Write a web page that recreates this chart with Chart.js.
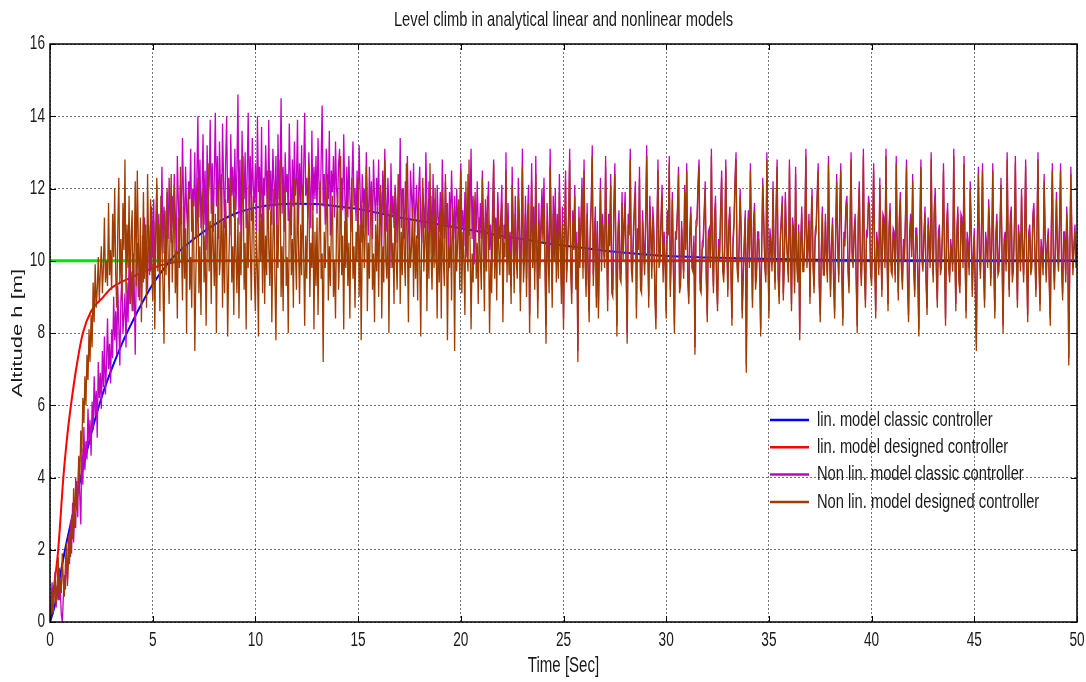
<!DOCTYPE html>
<html>
<head>
<meta charset="utf-8">
<script src="https://cdn.jsdelivr.net/npm/chart.js@4.4.1/dist/chart.umd.min.js"></script>
<style>
  html, body { margin: 0; padding: 0; background: #fff; }
  #wrap { width: 1086px; height: 682px; }
</style>
</head>
<body>
<div id="wrap"><canvas id="chart" width="1086" height="682"></canvas></div>
<script>
// Level climb: altitude response of linear / nonlinear models
const TITLE = 'Level climb in analytical linear and nonlinear models';
const X_LABEL = 'Time [Sec]';
const Y_LABEL = 'Altitude h [m]';

const xTicks = [0, 5, 10, 15, 20, 25, 30, 35, 40, 45, 50];
const yTicks = [0, 2, 4, 6, 8, 10, 12, 14, 16];

const seriesNames = [
  'lin. model classic controller',
  'lin. model designed controller',
  'Non lin. model classic controller',
  'Non lin. model designed controller',
];

// reference altitude (green)
const refTime = [0, 50];
const refAlt = [10, 10];

// linear model, classic controller (blue)
const blueTime = [0, 0.25, 0.5, 0.75, 1, 1.5, 2, 2.5, 3, 3.5, 4, 4.5, 5, 5.5, 6, 7, 8, 9, 10, 11, 12, 13, 14, 15, 16, 17, 18, 19, 20, 21, 22, 23, 24, 25, 26, 27, 28, 29, 30, 32, 34, 36, 38, 40, 45, 50];
const blueAlt = [0, 0.5, 1.3, 2.05, 2.7, 4.0, 5.2, 6.2, 7.0, 7.7, 8.3, 8.85, 9.35, 9.75, 10.1, 10.6, 11.0, 11.3, 11.47, 11.56, 11.58, 11.57, 11.5, 11.43, 11.32, 11.2, 11.1, 11.0, 10.9, 10.8, 10.68, 10.6, 10.5, 10.42, 10.35, 10.28, 10.22, 10.17, 10.13, 10.09, 10.06, 10.04, 10.02, 10.01, 10.0, 10.0];

// linear model, designed controller (red)
const redTime = [0, 0.2, 0.4, 0.65, 0.85, 1.02, 1.3, 1.6, 2, 2.6, 3, 3.5, 4, 5, 6, 7, 50];
const redAlt = [0, 1.0, 2.0, 4.0, 5.2, 6.0, 7.1, 8.0, 8.6, 9.0, 9.25, 9.42, 9.55, 9.8, 9.95, 10.0, 10.0];

// nonlinear models, sampled every 0.05 s (one row = one second)
const SAMPLE_DT = 0.05;

// nonlinear model, classic controller (magenta)
const magentaAlt = [
  0.0, 0.5, 1.1, 0.3, 0.8, 1.4, 0.4, 1.0, 0.6, 1.5, 0.9, 0.2, 0.0, 0.7, 1.3, 0.9, 1.8, 1.2, 2.4, 1.6,
  2.8, 1.9, 3.3, 2.2, 3.0, 2.6, 3.9, 2.9, 4.4, 3.5, 2.7, 4.8, 3.8, 5.4, 4.2, 5.0, 4.5, 5.9, 4.9, 5.6,
  4.6, 6.1, 5.3, 6.8, 5.7, 6.4, 5.1, 7.2, 6.2, 6.9, 5.9, 7.5, 6.5, 7.9, 6.3, 7.1, 8.4, 7.0, 7.7, 6.6,
  8.1, 7.3, 9.0, 7.8, 8.6, 7.4, 9.3, 8.2, 7.1, 8.9, 9.6, 8.0, 8.5, 9.1, 7.6, 9.4, 8.3, 10.0, 8.8, 9.7,
  8.6, 10.2, 9.3, 7.4, 9.8, 10.5, 9.0, 9.6, 10.1, 8.9, 10.7, 9.4, 11.2, 9.9, 10.4, 9.2, 11.0, 10.3, 9.7, 11.5,
  10.1, 11.7, 9.6, 10.9, 12.1, 10.4, 11.3, 9.9, 10.7, 12.6, 10.2, 11.5, 10.8, 9.8, 11.9, 10.6, 12.3, 11.1, 10.5, 11.8,
  10.9, 12.4, 11.3, 10.2, 12.9, 11.6, 10.7, 12.1, 11.0, 13.4, 11.8, 10.5, 12.6, 11.4, 10.9, 12.2, 11.7, 13.1, 10.8, 12.0,
  11.5, 13.0, 10.6, 12.3, 14.0, 11.2, 12.8, 10.9, 11.9, 13.5, 11.0, 12.5, 10.3, 13.2, 11.7, 12.1, 13.9, 11.3, 12.7, 10.8,
  12.4, 14.1, 11.5, 12.9, 10.6, 13.3, 12.0, 11.1, 13.8, 12.2, 10.9, 12.7, 14.0, 11.6, 12.3, 10.7, 13.5, 11.8, 12.6, 11.2,
  13.1, 11.4, 12.5, 14.6, 11.0, 12.8, 10.5, 13.6, 12.1, 11.7, 13.0, 10.9, 12.4, 14.1, 11.5, 12.9, 11.1, 13.4, 12.0, 11.6,
  12.7, 10.8, 14.0, 11.9, 12.6, 11.2, 13.7, 10.6, 12.3, 11.8, 13.2, 12.0, 10.9, 13.9, 11.4, 12.5, 11.0, 13.1, 12.2, 11.5,
  12.9, 10.4, 13.5, 11.7, 12.1, 14.5, 11.3, 12.6, 10.8, 13.0, 11.9, 12.4, 11.1, 13.8, 12.3, 10.7, 12.8, 11.5, 13.3, 11.8,
  12.2, 13.9, 11.0, 12.7, 11.6, 13.2, 10.6, 12.5, 14.1, 11.8, 12.3, 11.2, 13.0, 12.0, 10.9, 13.6, 11.4, 12.6, 11.7, 12.9,
  11.3, 13.4, 12.1, 10.8, 12.8, 14.3, 11.5, 12.4, 11.0, 13.1, 12.2, 11.7, 13.6, 10.7, 12.5, 11.9, 12.9, 11.2, 13.3, 12.0,
  11.6, 12.7, 13.1, 10.9, 12.3, 11.4, 13.5, 11.9, 10.6, 12.6, 11.2, 12.9, 11.8, 10.8, 12.2, 13.3, 11.5, 12.0, 11.1, 12.5,
  11.3, 13.2, 11.9, 10.5, 12.4, 11.6, 12.0, 10.9, 13.0, 11.7, 10.7, 12.6, 11.4, 12.2, 10.6, 12.8, 11.8, 11.1, 12.3, 11.5,
  12.8, 11.0, 11.9, 10.4, 12.5, 11.3, 13.1, 11.7, 10.8, 12.3, 11.5, 9.8, 12.7, 11.2, 11.8, 10.9, 12.1, 11.6, 10.5, 12.4,
  11.4, 13.4, 10.9, 12.0, 11.6, 10.6, 12.2, 11.3, 12.9, 11.0, 10.3, 12.5, 11.8, 11.2, 12.7, 10.8, 11.5, 12.1, 10.6, 11.9,
  12.6, 11.1, 10.5, 12.0, 11.4, 10.9, 13.0, 11.6, 10.4, 12.2, 11.3, 11.8, 10.2, 12.4, 11.0, 11.7, 9.9, 12.1, 11.2, 10.8,
  11.9, 10.7, 12.8, 11.3, 10.6, 12.2, 11.0, 11.6, 9.7, 11.9, 10.9, 12.5, 11.4, 10.6, 11.8, 10.3, 12.0, 11.1, 10.8, 11.5,
  12.7, 10.9, 11.4, 10.4, 11.9, 11.2, 10.1, 12.4, 10.7, 11.5, 13.1, 10.6, 11.8, 9.9, 11.3, 10.8, 12.2, 11.0, 10.5, 11.6,
  10.6, 12.5, 11.1, 10.0, 11.7, 10.9, 11.4, 12.2, 10.3, 11.0, 9.8, 11.6, 12.8, 10.7, 11.2, 10.4, 11.9, 11.0, 10.6, 11.3,
  12.1, 8.8, 11.0, 10.6, 13.0, 9.9, 11.6, 10.1, 10.8, 9.3, 12.6, 11.1, 9.6, 11.8, 10.5, 10.0, 12.3, 11.3, 9.1, 11.0,
  13.1, 9.9, 10.5, 11.8, 9.5, 11.3, 12.1, 8.5, 10.8, 12.7, 10.3, 11.5, 9.7, 12.9, 10.7, 8.9, 11.6, 10.0, 11.1, 12.0,
  11.0, 12.3, 10.2, 8.2, 11.6, 10.7, 9.6, 13.1, 11.1, 9.2, 11.8, 10.5, 12.0, 9.9, 11.3, 10.0, 12.4, 10.8, 9.3, 11.5,
  8.4, 10.9, 12.5, 9.7, 10.5, 11.3, 13.1, 10.0, 9.1, 11.4, 10.6, 12.1, 9.5, 10.8, 7.5, 11.5, 10.1, 11.1, 12.3, 9.8,
  12.8, 10.3, 9.3, 11.6, 9.8, 8.6, 10.9, 11.7, 13.2, 9.6, 10.6, 11.5, 9.0, 11.1, 8.7, 10.5, 12.3, 10.0, 11.3, 10.6,
  10.1, 12.9, 10.8, 8.9, 11.3, 10.7, 12.4, 9.4, 9.3, 11.5, 12.7, 10.5, 8.2, 10.9, 11.4, 9.8, 9.7, 11.9, 10.3, 11.1,
  11.9, 10.0, 8.0, 11.3, 11.0, 13.1, 10.1, 9.7, 10.8, 11.6, 12.2, 8.7, 10.9, 10.6, 12.6, 9.5, 9.4, 11.4, 10.5, 9.9,
  11.2, 13.2, 10.6, 9.0, 11.8, 10.9, 9.8, 11.5, 10.9, 9.2, 8.4, 11.1, 12.8, 10.1, 10.3, 11.3, 12.1, 9.7, 10.8, 10.1,
  8.6, 11.4, 10.9, 12.9, 9.2, 10.4, 11.9, 9.9, 8.2, 10.8, 10.8, 11.5, 12.6, 9.3, 9.5, 11.1, 10.4, 9.7, 12.1, 10.5,
  12.7, 9.6, 9.0, 10.9, 11.5, 10.0, 9.9, 10.7, 7.6, 11.1, 11.2, 12.2, 12.8, 9.4, 9.3, 10.5, 10.6, 11.4, 12.2, 9.7,
  8.5, 10.8, 10.9, 10.0, 13.1, 10.4, 9.3, 11.2, 11.8, 9.6, 8.8, 10.6, 10.2, 11.5, 12.5, 9.9, 9.6, 10.5, 12.8, 10.8,
  9.2, 11.1, 11.5, 9.9, 8.4, 10.6, 11.1, 12.3, 13.0, 10.0, 9.6, 10.5, 12.0, 10.9, 8.6, 9.7, 10.6, 11.4, 7.1, 10.4,
  11.4, 10.0, 12.7, 10.6, 8.9, 11.1, 11.6, 9.4, 9.8, 10.8, 10.8, 9.9, 8.1, 10.5, 12.3, 11.2, 10.0, 9.6, 13.0, 10.6,
  8.6, 10.9, 10.5, 9.9, 12.2, 10.4, 9.4, 11.5, 12.8, 9.7, 9.0, 10.6, 11.2, 11.8, 9.1, 10.0, 11.9, 10.8, 10.2, 9.6,
  12.8, 10.5, 8.8, 11.2, 10.9, 9.3, 12.6, 10.2, 9.6, 11.0, 8.0, 10.6, 11.5, 9.9, 9.9, 10.9, 13.1, 10.0, 10.5, 11.3,
  9.0, 11.0, 12.0, 10.0, 9.3, 10.8, 11.0, 11.9, 12.7, 9.5, 8.5, 10.3, 11.5, 9.8, 9.8, 11.3, 10.3, 9.6, 12.9, 10.5,
  9.2, 10.6, 11.2, 9.6, 8.6, 10.9, 12.4, 10.5, 9.6, 11.5, 12.7, 9.8, 8.4, 10.8, 10.6, 11.6, 11.8, 9.9, 9.3, 11.0,
  13.0, 10.3, 10.0, 10.9, 11.3, 9.6, 8.2, 11.2, 12.2, 10.2, 9.5, 10.6, 13.1, 9.9, 8.9, 10.8, 10.9, 11.8, 11.5, 9.8,
  9.5, 11.0, 12.7, 10.2, 8.6, 10.8, 10.5, 9.8, 12.3, 10.6, 9.2, 11.3, 11.2, 10.0, 13.1, 10.3, 8.8, 11.0, 11.6, 9.9,
  9.8, 10.9, 10.8, 9.6, 12.9, 10.5, 9.1, 11.2, 11.9, 10.0, 9.4, 10.6, 10.2, 11.3, 12.8, 9.5, 8.5, 10.8, 11.3, 10.3,
  12.4, 9.9, 9.2, 10.9, 10.9, 9.7, 8.1, 11.0, 12.8, 10.2, 9.9, 10.8, 11.5, 9.6, 8.7, 11.2, 10.6, 10.0, 13.0, 10.5,
  9.6, 11.5, 12.0, 9.9, 8.9, 10.8, 11.0, 9.8, 10.0, 10.9, 12.7, 10.2, 8.4, 11.0, 11.6, 10.0, 9.6, 10.6, 10.3, 9.9,
  13.1, 10.5, 8.8, 10.9, 11.5, 9.6, 9.3, 11.3, 11.2, 10.0, 12.9, 10.3, 8.6, 10.8, 10.5, 9.8, 12.2, 11.0, 9.2, 10.2,
  10.9, 9.3, 7.7, 10.6, 12.6, 10.3, 9.7, 11.0, 12.7, 9.9, 8.9, 10.8, 10.5, 10.0, 11.7, 10.9, 9.5, 10.5, 12.7, 10.0,
  8.6, 10.8, 11.3, 9.8, 9.9, 11.0, 12.3, 10.3, 8.2, 10.6, 10.8, 9.9, 13.0, 10.5, 9.2, 11.2, 11.5, 9.6, 9.9, 10.9,
  12.9, 10.2, 8.9, 11.0, 10.6, 9.9, 12.0, 10.5, 9.6, 10.9, 12.8, 10.0, 8.5, 10.8, 11.0, 9.8, 10.0, 11.3, 11.6, 10.3,
  9.2, 10.9, 13.0, 10.0, 8.8, 10.6, 10.3, 9.8, 12.4, 10.8, 9.6, 10.5, 10.9, 9.5, 8.4, 11.0, 12.7, 10.2, 9.4, 10.6,
  11.9, 10.3, 9.9, 11.1, 12.7, 10.0, 9.1, 10.8, 10.8, 9.6, 11.5, 10.6, 7.3, 10.2, 12.6, 10.8, 9.8, 10.5, 11.0, 10.0,
  10.5,
];

// nonlinear model, designed controller (brown)
const brownAlt = [
  0.0, 0.4, 0.9, 0.2, 0.7, 1.3, 0.5, 1.0, 1.8, 0.6, 1.2, 0.8, 1.9, 1.1, 0.7, 1.6, 2.2, 1.0, 1.7, 2.5,
  1.8, 2.9, 2.3, 3.7, 2.6, 4.0, 3.1, 3.6, 4.6, 3.9, 5.3, 4.7, 6.2, 5.5, 6.8, 6.0, 7.4, 6.7, 8.1, 7.2,
  8.5, 7.6, 9.4, 8.3, 9.9, 8.7, 9.2, 10.1, 8.9, 9.7, 10.4, 9.1, 9.8, 11.2, 9.4, 10.0, 9.3, 11.6, 9.6, 10.3,
  9.2, 11.3, 10.1, 12.0, 9.6, 8.7, 10.9, 12.3, 9.4, 10.6, 8.9, 11.6, 10.3, 12.8, 9.1, 11.0, 9.8, 11.8, 8.8, 10.7,
  11.4, 8.6, 10.2, 12.2, 9.3, 12.5, 10.6, 8.9, 11.2, 8.3, 10.0, 11.9, 9.5, 11.0, 8.7, 12.4, 10.5, 9.6, 11.7, 9.9,
  8.9, 11.1, 8.1, 10.4, 12.3, 9.7, 11.0, 8.6, 11.8, 10.4, 9.3, 7.7, 11.4, 9.6, 12.0, 10.2, 8.8, 11.0, 12.4, 9.4,
  10.7, 12.1, 9.1, 10.3, 8.4, 11.2, 9.8, 12.6, 10.4, 8.9, 11.5, 9.5, 10.9, 8.0, 11.3, 11.9, 9.2, 10.1, 8.7, 11.7,
  10.5, 7.5, 9.6, 11.0, 12.3, 9.1, 10.4, 8.5, 11.4, 12.0, 9.4, 10.7, 8.2, 10.2, 12.7, 9.7, 11.1, 8.8, 11.6, 10.4,
  9.3, 11.3, 8.0, 10.5, 12.1, 9.6, 10.1, 12.4, 8.7, 11.1, 9.1, 11.7, 10.6, 7.9, 9.8, 11.0, 12.3, 9.4, 10.4, 8.5,
  11.8, 10.2, 9.1, 11.2, 8.4, 10.8, 9.6, 11.5, 12.9, 9.2, 10.5, 8.1, 11.4, 9.8, 12.1, 10.4, 8.9, 11.1, 11.8, 9.6,
  8.6, 10.8, 9.7, 7.9, 12.2, 10.0, 11.3, 9.1, 11.8, 8.8, 10.7, 9.6, 12.5, 10.4, 9.3, 11.4, 8.3, 10.5, 12.0, 9.5,
  7.8, 11.0, 9.8, 11.5, 12.8, 9.0, 10.4, 8.6, 11.3, 12.1, 9.3, 10.1, 8.0, 11.1, 11.7, 9.6, 10.6, 8.7, 12.3, 10.2,
  9.2, 12.3, 10.4, 8.8, 11.0, 9.6, 12.1, 10.2, 8.2, 10.7, 9.5, 11.4, 12.7, 9.0, 10.5, 9.8, 11.6, 8.1, 10.8, 9.3,
  11.2, 8.5, 10.6, 12.2, 9.5, 10.2, 7.2, 10.8, 9.8, 11.2, 12.4, 8.9, 10.4, 9.3, 11.0, 11.8, 9.0, 10.0, 8.4, 11.0,
  11.9, 9.2, 10.2, 12.9, 9.6, 10.7, 8.1, 11.1, 9.8, 11.6, 9.3, 10.5, 8.4, 11.3, 12.3, 9.5, 10.4, 8.7, 10.8, 10.0,
  12.3, 9.0, 11.0, 7.8, 10.4, 11.7, 9.8, 10.8, 12.6, 8.6, 10.5, 9.5, 11.2, 12.0, 9.2, 10.2, 8.3, 11.0, 9.7, 11.5,
  9.0, 11.1, 12.1, 8.4, 10.4, 9.4, 12.8, 10.0, 9.5, 11.4, 8.0, 10.7, 11.6, 9.8, 10.5, 8.8, 11.9, 10.2, 9.2, 11.0,
  12.4, 8.8, 10.8, 9.6, 12.0, 10.2, 9.3, 12.7, 10.5, 8.3, 11.1, 9.8, 10.4, 11.5, 9.0, 11.2, 9.5, 10.7, 8.9, 11.8,
  10.0, 7.9, 11.0, 12.3, 9.7, 10.5, 11.8, 8.6, 10.8, 9.5, 12.7, 10.2, 9.2, 11.3, 9.8, 12.0, 10.4, 8.4, 11.0, 9.4,
  11.4, 8.4, 11.9, 10.0, 9.3, 12.4, 10.6, 7.8, 10.4, 9.8, 11.0, 8.9, 11.5, 10.5, 7.5, 11.1, 9.7, 10.6, 11.7, 9.2,
  12.5, 9.1, 10.8, 10.0, 8.5, 12.2, 10.3, 9.7, 12.8, 10.6, 8.1, 10.2, 9.4, 11.3, 11.9, 9.5, 10.5, 8.8, 11.2, 10.1,
  9.2, 12.3, 10.3, 8.6, 11.2, 9.7, 11.8, 10.7, 8.0, 10.0, 9.1, 10.6, 12.7, 9.5, 11.0, 8.9, 11.5, 10.3, 9.6, 11.1,
  11.6, 8.3, 10.5, 10.1, 12.5, 9.4, 11.1, 9.6, 10.3, 8.8, 12.1, 10.6, 9.1, 11.3, 10.0, 9.5, 11.8, 10.8, 8.6, 10.5,
  12.6, 9.4, 10.0, 11.3, 9.0, 10.8, 11.6, 8.0, 10.3, 12.2, 9.8, 11.0, 9.2, 12.4, 10.2, 8.4, 11.1, 9.5, 10.6, 11.5,
  10.5, 11.8, 9.7, 7.7, 11.1, 10.2, 9.1, 12.6, 10.6, 8.7, 11.3, 10.0, 11.5, 9.4, 10.8, 9.5, 11.9, 10.3, 8.8, 11.0,
  8.1, 10.6, 12.2, 9.4, 10.2, 11.0, 12.8, 9.7, 8.8, 11.1, 10.3, 11.8, 9.2, 10.5, 7.2, 11.2, 9.8, 10.8, 12.0, 9.5,
  12.5, 10.0, 9.0, 11.3, 9.5, 8.3, 10.6, 11.4, 12.9, 9.3, 10.3, 11.2, 8.7, 10.8, 8.4, 10.2, 12.0, 9.7, 11.0, 10.3,
  9.8, 12.6, 10.5, 8.6, 11.0, 10.4, 12.1, 9.1, 9.0, 11.2, 12.4, 10.2, 7.9, 10.6, 11.1, 9.5, 9.4, 11.6, 10.0, 10.8,
  11.6, 9.7, 7.7, 11.0, 10.7, 12.8, 9.8, 9.4, 10.5, 11.3, 11.9, 8.4, 10.6, 10.3, 12.3, 9.2, 9.1, 11.1, 10.2, 9.6,
  10.9, 12.9, 10.3, 8.7, 11.5, 10.6, 9.5, 11.2, 10.6, 8.9, 8.1, 10.8, 12.5, 9.8, 10.0, 11.0, 11.8, 9.4, 10.5, 9.8,
  8.4, 11.2, 10.7, 12.7, 9.0, 10.2, 11.7, 9.7, 8.0, 10.6, 10.6, 11.3, 12.4, 9.1, 9.3, 10.9, 10.2, 9.5, 11.9, 10.3,
  12.5, 9.4, 8.8, 10.7, 11.3, 9.8, 9.7, 10.5, 7.4, 10.9, 11.0, 12.0, 12.6, 9.2, 9.1, 10.3, 10.4, 11.2, 12.0, 9.5,
  8.3, 10.6, 10.7, 9.8, 12.9, 10.2, 9.1, 11.0, 11.6, 9.4, 8.6, 10.4, 10.0, 11.3, 12.3, 9.7, 9.4, 10.3, 12.6, 10.6,
  9.0, 10.9, 11.3, 9.7, 8.2, 10.4, 10.9, 12.1, 12.8, 9.8, 9.4, 10.3, 11.8, 10.7, 8.4, 9.5, 10.4, 11.2, 6.9, 10.2,
  11.2, 9.8, 12.5, 10.4, 8.7, 10.9, 11.4, 9.2, 9.6, 10.6, 10.6, 9.7, 7.9, 10.3, 12.1, 11.0, 9.8, 9.4, 12.8, 10.4,
  8.4, 10.7, 10.3, 9.7, 12.0, 10.2, 9.2, 11.3, 12.6, 9.5, 8.8, 10.4, 11.0, 11.6, 8.9, 9.8, 11.7, 10.6, 10.0, 9.4,
  12.6, 10.3, 8.6, 11.0, 10.7, 9.1, 12.4, 10.0, 9.4, 10.8, 7.8, 10.4, 11.3, 9.7, 9.7, 10.7, 12.9, 9.8, 10.3, 11.1,
  8.8, 10.8, 11.8, 9.8, 9.1, 10.6, 10.8, 11.7, 12.5, 9.3, 8.3, 10.1, 11.3, 9.6, 9.6, 11.1, 10.1, 9.4, 12.7, 10.3,
  9.0, 10.4, 11.0, 9.4, 8.4, 10.7, 12.2, 10.3, 9.4, 11.3, 12.5, 9.6, 8.2, 10.6, 10.4, 11.4, 11.6, 9.7, 9.1, 10.8,
  12.8, 10.1, 9.8, 10.7, 11.1, 9.4, 8.0, 11.0, 12.0, 10.0, 9.3, 10.4, 12.9, 9.7, 8.7, 10.6, 10.7, 11.6, 11.3, 9.6,
  9.3, 10.8, 12.5, 10.0, 8.4, 10.6, 10.3, 9.6, 12.1, 10.4, 9.0, 11.1, 11.0, 9.8, 12.9, 10.1, 8.6, 10.8, 11.4, 9.7,
  9.6, 10.7, 10.6, 9.4, 12.7, 10.3, 8.9, 11.0, 11.7, 9.8, 9.2, 10.4, 10.0, 11.1, 12.6, 9.3, 8.3, 10.6, 11.1, 10.1,
  12.2, 9.7, 9.0, 10.7, 10.7, 9.5, 7.9, 10.8, 12.6, 10.0, 9.7, 10.6, 11.3, 9.4, 8.5, 11.0, 10.4, 9.8, 12.8, 10.3,
  9.4, 11.3, 11.8, 9.7, 8.7, 10.6, 10.8, 9.6, 9.8, 10.7, 12.5, 10.0, 8.2, 10.8, 11.4, 9.8, 9.4, 10.4, 10.1, 9.7,
  12.9, 10.3, 8.6, 10.7, 11.3, 9.4, 9.1, 11.1, 11.0, 9.8, 12.7, 10.1, 8.4, 10.6, 10.3, 9.6, 12.0, 10.8, 9.0, 10.0,
  10.7, 9.1, 7.5, 10.4, 12.4, 10.1, 9.5, 10.8, 12.5, 9.7, 8.7, 10.6, 10.3, 9.8, 11.5, 10.7, 9.3, 10.3, 12.5, 9.8,
  8.4, 10.6, 11.1, 9.6, 9.7, 10.8, 12.1, 10.1, 8.0, 10.4, 10.6, 9.7, 12.8, 10.3, 9.0, 11.0, 11.3, 9.4, 9.7, 10.7,
  12.7, 10.0, 8.7, 10.8, 10.4, 9.7, 11.8, 10.3, 9.4, 10.7, 12.6, 9.8, 8.3, 10.6, 10.8, 9.6, 9.8, 11.1, 11.4, 10.1,
  9.0, 10.7, 12.8, 9.8, 8.6, 10.4, 10.1, 9.6, 12.2, 10.6, 9.4, 10.3, 10.7, 9.3, 8.2, 10.8, 12.5, 10.0, 9.2, 10.4,
  11.7, 10.1, 9.7, 10.9, 12.5, 9.8, 8.9, 10.6, 10.6, 9.4, 11.3, 10.4, 7.1, 10.0, 12.4, 10.6, 9.6, 10.3, 10.8, 9.8,
  10.3,
];

const seriesColors = ['#0000ff', '#ff0000', '#c400c4', '#a03c00'];
const refColor = '#00e600';

// the figure text is a horizontally squeezed Helvetica
const FONT = "'Liberation Sans', Arial, Helvetica, sans-serif";
const SQUEEZE = 0.7;
const TEXT_COLOR = '#1a1a1a';

const toPoints = (xs, ys) => ys.map((y, i) => ({ x: xs[i], y }));
const sampled = ys => ys.map((y, i) => ({ x: Math.round(i * SAMPLE_DT * 100) / 100, y }));

function squeezedText(ctx, text, x, y, size, align) {
  ctx.save();
  ctx.font = `${size}px ${FONT}`;
  ctx.textAlign = align;
  ctx.textBaseline = 'middle';
  ctx.scale(SQUEEZE, 1);
  ctx.fillText(text, x / SQUEEZE, y);
  ctx.restore();
}

// Frame, inward ticks, labels and legend drawn like the MATLAB figure
const matlabFrame = {
  id: 'matlabFrame',
  afterDraw(chart) {
    const { ctx, chartArea: a, scales } = chart;
    const tickLen = 6;
    ctx.save();
    ctx.strokeStyle = '#000';
    ctx.lineWidth = 1;
    ctx.beginPath();
    xTicks.forEach(v => {
      const x = Math.round(scales.x.getPixelForValue(v)) + 0.5;
      ctx.moveTo(x, a.bottom); ctx.lineTo(x, a.bottom - tickLen);
      ctx.moveTo(x, a.top); ctx.lineTo(x, a.top + tickLen);
    });
    yTicks.forEach(v => {
      const y = Math.round(scales.y.getPixelForValue(v)) + 0.5;
      ctx.moveTo(a.left, y); ctx.lineTo(a.left + tickLen, y);
      ctx.moveTo(a.right, y); ctx.lineTo(a.right - tickLen, y);
    });
    ctx.stroke();
    ctx.lineWidth = 1.5;
    ctx.strokeRect(a.left, a.top, a.right - a.left, a.bottom - a.top);

    ctx.fillStyle = TEXT_COLOR;
    xTicks.forEach(v => squeezedText(ctx, String(v), scales.x.getPixelForValue(v), a.bottom + 19, 19.5, 'center'));
    yTicks.forEach(v => squeezedText(ctx, String(v), a.left - 5, scales.y.getPixelForValue(v), 19.5, 'right'));

    squeezedText(ctx, TITLE, (a.left + a.right) / 2, 20, 21, 'center');
    squeezedText(ctx, X_LABEL, (a.left + a.right) / 2, 666, 21.5, 'center');

    // y label: rotated, glyphs squeezed across the line
    ctx.save();
    ctx.translate(18, (a.top + a.bottom) / 2);
    ctx.rotate(-Math.PI / 2);
    ctx.scale(1, SQUEEZE);
    ctx.font = `22px ${FONT}`;
    ctx.textAlign = 'center';
    ctx.textBaseline = 'middle';
    ctx.fillText(Y_LABEL, 0, 0);
    ctx.restore();

    // legend, lower right inside the axes
    const lx = 770, ly = 420, rowH = 27.3;
    seriesNames.forEach((name, i) => {
      const y = ly + i * rowH;
      ctx.strokeStyle = seriesColors[i];
      ctx.lineWidth = 2.5;
      ctx.beginPath();
      ctx.moveTo(lx, y); ctx.lineTo(lx + 39, y);
      ctx.stroke();
      squeezedText(ctx, name, lx + 47, y, 21, 'left');
    });
    ctx.restore();
  },
};

const gridOpts = { color: 'rgba(0,0,0,0.55)', lineWidth: 1, drawTicks: false };

new Chart(document.getElementById('chart'), {
  type: 'line',
  data: {
    datasets: [
      {
        label: 'reference',
        data: toPoints(refTime, refAlt),
        borderColor: refColor, borderWidth: 3, order: 5,
      },
      {
        label: seriesNames[1],
        data: toPoints(redTime, redAlt),
        borderColor: seriesColors[1], borderWidth: 2, order: 4,
        cubicInterpolationMode: 'monotone',
      },
      {
        label: seriesNames[0],
        data: toPoints(blueTime, blueAlt),
        borderColor: seriesColors[0], borderWidth: 2, order: 3,
        cubicInterpolationMode: 'monotone',
      },
      {
        label: seriesNames[2],
        data: sampled(magentaAlt),
        borderColor: seriesColors[2], borderWidth: 1.3, order: 2,
      },
      {
        label: seriesNames[3],
        data: sampled(brownAlt),
        borderColor: seriesColors[3], borderWidth: 1.3, order: 1,
      },
    ],
  },
  options: {
    responsive: false,
    animation: false,
    events: [],
    layout: { padding: { top: 44, right: 9, left: 0, bottom: 0 } },
    elements: { point: { radius: 0 }, line: { tension: 0 } },
    plugins: {
      legend: { display: false },
      title: { display: false },
      tooltip: { enabled: false },
    },
    scales: {
      x: {
        type: 'linear',
        min: 0,
        max: 50,
        afterBuildTicks: s => { s.ticks = xTicks.map(v => ({ value: v })); },
        afterFit: s => { s.height = 60; },
        grid: gridOpts,
        border: { display: false, dash: [2, 2] },
        ticks: { display: false },
      },
      y: {
        min: 0,
        max: 16,
        afterBuildTicks: s => { s.ticks = yTicks.map(v => ({ value: v })); },
        afterFit: s => { s.width = 50; },
        grid: gridOpts,
        border: { display: false, dash: [2, 2] },
        ticks: { display: false },
      },
    },
  },
  plugins: [matlabFrame],
});
</script>
</body>
</html>
